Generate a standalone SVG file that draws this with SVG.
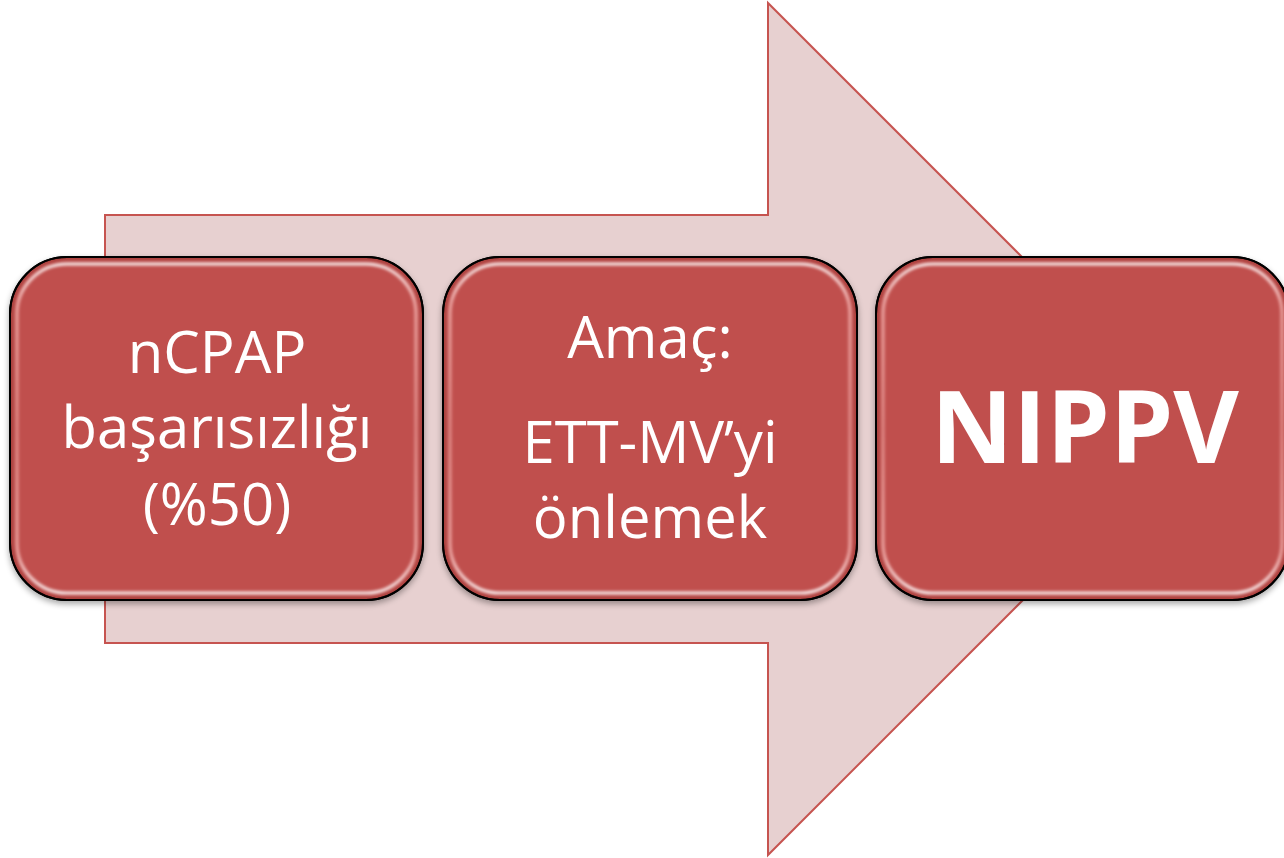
<svg xmlns="http://www.w3.org/2000/svg" width="1284" height="858" viewBox="0 0 1284 858">
  <defs>
    <style>
      .arrow { fill: #e7d0d0; stroke: #c65450; stroke-width: 2; stroke-linejoin: miter; }
      .card { fill: #c0504d; stroke: #000; stroke-width: 2; }
      .bevel { fill: none; stroke: #8e2f2c; stroke-width: 6; opacity: 0.5; }
      .gloss { fill: none; stroke: url(#glossGrad); stroke-width: 3.2; }
      .edge { fill: none; stroke: #000; stroke-width: 2; }
      .label { fill: #ffffff; font-family: "Open Sans", "Liberation Sans", sans-serif; text-anchor: middle; font-size: 58px; }
      .big { font-weight: 700; font-size: 101px; }
    </style>
    <linearGradient id="glossGrad" x1="0" y1="0" x2="0" y2="1">
      <stop offset="0" stop-color="#ffffff" stop-opacity="0.9"/>
      <stop offset="0.12" stop-color="#f6b9b6" stop-opacity="0.8"/>
      <stop offset="0.5" stop-color="#efa6a3" stop-opacity="0.65"/>
      <stop offset="0.88" stop-color="#f6b9b6" stop-opacity="0.8"/>
      <stop offset="1" stop-color="#ffffff" stop-opacity="0.9"/>
    </linearGradient>
    <filter id="soft" x="-5%" y="-5%" width="110%" height="110%">
      <feGaussianBlur stdDeviation="1.4"/>
    </filter>
    <filter id="softer" x="-5%" y="-5%" width="110%" height="110%">
      <feGaussianBlur stdDeviation="2.5"/>
    </filter>
    <filter id="drop" x="-5%" y="-5%" width="110%" height="115%">
      <feGaussianBlur in="SourceAlpha" stdDeviation="3"/>
      <feOffset dy="3"/>
      <feComponentTransfer><feFuncA type="linear" slope="0.35"/></feComponentTransfer>
      <feMerge><feMergeNode/><feMergeNode in="SourceGraphic"/></feMerge>
    </filter>
    <clipPath id="clip1"><rect x="10" y="257" width="413" height="343" rx="57"/></clipPath>
    <clipPath id="clip2"><rect x="443" y="257" width="414" height="343" rx="57"/></clipPath>
    <clipPath id="clip3"><rect x="876" y="257" width="413" height="343" rx="57"/></clipPath>
  </defs>

  <rect width="1284" height="858" fill="#ffffff"/>

  <!-- background block arrow -->
  <g id="connectors">
    <polygon class="arrow" points="105,215 768,215 768,3 1194,429 768,855 768,643 105,643"/>
  </g>

  <!-- step 1 -->
  <g id="step1">
    <rect class="card" x="10" y="257" width="413" height="343" rx="57" filter="url(#drop)"/>
    <g clip-path="url(#clip1)">
      <rect class="bevel" x="10" y="257" width="413" height="343" rx="57" filter="url(#softer)"/>
      <rect class="gloss" x="17" y="264" width="399" height="329" rx="50" filter="url(#soft)"/>
    </g>
    <rect class="edge" x="10" y="257" width="413" height="343" rx="57"/>
    <text class="label" x="217" y="373">nCPAP</text>
    <text class="label" x="217" y="448">başarısızlığı</text>
    <text class="label" x="217" y="525">(%50)</text>
  </g>

  <!-- step 2 -->
  <g id="step2">
    <rect class="card" x="443" y="257" width="414" height="343" rx="57" filter="url(#drop)"/>
    <g clip-path="url(#clip2)">
      <rect class="bevel" x="443" y="257" width="414" height="343" rx="57" filter="url(#softer)"/>
      <rect class="gloss" x="450" y="264" width="400" height="329" rx="50" filter="url(#soft)"/>
    </g>
    <rect class="edge" x="443" y="257" width="414" height="343" rx="57"/>
    <text class="label" x="650" y="358">Amaç:</text>
    <text class="label" x="650" y="463">ETT-MV’yi</text>
    <text class="label" x="650" y="538">önlemek</text>
  </g>

  <!-- step 3 -->
  <g id="step3">
    <rect class="card" x="876" y="257" width="413" height="343" rx="57" filter="url(#drop)"/>
    <g clip-path="url(#clip3)">
      <rect class="bevel" x="876" y="257" width="413" height="343" rx="57" filter="url(#softer)"/>
      <rect class="gloss" x="883" y="264" width="399" height="329" rx="50" filter="url(#soft)"/>
    </g>
    <rect class="edge" x="876" y="257" width="413" height="343" rx="57"/>
    <text class="label big" x="1085" y="463">NIPPV</text>
  </g>
</svg>
